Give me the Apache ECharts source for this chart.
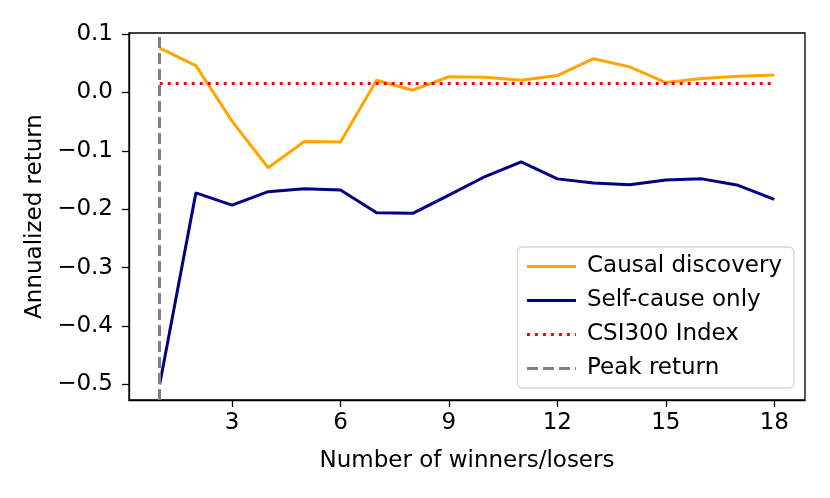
<!DOCTYPE html>
<html>
<head>
<meta charset="utf-8">
<script src="https://cdn.jsdelivr.net/npm/echarts@6/dist/echarts.min.js"></script>
<style>
  html, body { margin: 0; padding: 0; background: #fff; }
  #chart { width: 830px; height: 498px; }
</style>
</head>
<body>
<div id="chart"></div>
<script>
let myChart = echarts.init(document.getElementById('chart'))

// data
const winners = [1, 2, 3, 4, 5, 6, 7, 8, 9, 10, 11, 12, 13, 14, 15, 16, 17, 18]
const causal = [0.076, 0.046, -0.049, -0.129, -0.084, -0.085, 0.021, 0.004, 0.027, 0.026, 0.021, 0.029, 0.058, 0.044, 0.017, 0.024, 0.028, 0.030]
const selfCause = [-0.500, -0.172, -0.193, -0.170, -0.165, -0.167, -0.206, -0.207, -0.176, -0.144, -0.119, -0.148, -0.155, -0.158, -0.150, -0.148, -0.159, -0.183]
const csi300 = 0.0154
const xTicks = [3, 6, 9, 12, 15, 18]
const yTicks = [-0.5, -0.4, -0.3, -0.2, -0.1, 0.0, 0.1]

// peak of causal discovery
let peakIdx = causal.indexOf(Math.max(...causal))
let peakX = winners[peakIdx]

const font = 'DejaVu Sans'
const fs = 23
const lw = 3

let opt = {
  animation: false,
  backgroundColor: '#fff',
  textStyle: { fontFamily: font },
  grid: {
    left: 129, right: 25, top: 33, bottom: 98,
    show: true, borderColor: '#000', borderWidth: 1.3, backgroundColor: 'transparent'
  },
  legend: {
    orient: 'vertical',
    right: 36, top: 247,
    data: ['Causal discovery', 'Self-cause only', 'CSI300 Index', 'Peak return'],
    itemWidth: 49, itemHeight: 14, itemGap: 11,
    padding: [8, 12, 8, 8],
    backgroundColor: 'rgba(255,255,255,0.8)',
    borderColor: '#d6d6d6', borderWidth: 1.3, borderRadius: 5,
    itemStyle: { opacity: 0 },
    lineStyle: { width: lw },
    textStyle: { fontFamily: font, fontSize: fs, color: '#000', padding: [0, 0, 0, 6] }
  },
  xAxis: {
    type: 'value',
    min: 0.15, max: 18.85,
    name: 'Number of winners/losers',
    nameLocation: 'middle', nameGap: 50,
    nameTextStyle: { fontFamily: font, fontSize: fs, color: '#000' },
    axisLine: { show: true, onZero: false, lineStyle: { color: '#000', width: 1.3 } },
    axisTick: { show: true, customValues: xTicks, length: 7, lineStyle: { color: '#000', width: 1.3 } },
    axisLabel: { customValues: xTicks, margin: 12, fontFamily: font, fontSize: fs, color: '#000' },
    splitLine: { show: false }
  },
  yAxis: {
    type: 'value',
    min: -0.527, max: 0.102,
    name: 'Annualized return',
    nameLocation: 'middle', nameGap: 80, nameRotate: 90,
    nameTextStyle: { fontFamily: font, fontSize: fs, color: '#000' },
    axisLine: { show: true, lineStyle: { color: '#000', width: 1.3 } },
    axisTick: { show: true, customValues: yTicks, length: 7, lineStyle: { color: '#000', width: 1.3 } },
    axisLabel: {
      customValues: yTicks, margin: 16, fontFamily: font, fontSize: fs, color: '#000',
      formatter: v => v.toFixed(1).replace('-', '\u2212')
    },
    splitLine: { show: false }
  },
  series: [
    {
      name: 'Causal discovery', type: 'line', symbol: 'none',
      data: winners.map((x, i) => [x, causal[i]]),
      lineStyle: { color: '#FFA500', width: lw }, itemStyle: { color: '#FFA500' }
    },
    {
      name: 'Self-cause only', type: 'line', symbol: 'none',
      data: winners.map((x, i) => [x, selfCause[i]]),
      lineStyle: { color: '#000080', width: lw }, itemStyle: { color: '#000080' }
    },
    {
      name: 'CSI300 Index', type: 'line', symbol: 'none',
      data: winners.map(x => [x, csi300]),
      lineStyle: { color: '#FF0000', width: lw, type: [3, 5] }, itemStyle: { color: '#FF0000' }
    },
    {
      name: 'Peak return', type: 'line', symbol: 'none',
      data: [],
      lineStyle: { color: '#808080', width: lw, type: [11, 5] }, itemStyle: { color: '#808080' },
      markLine: {
        silent: true, symbol: 'none', label: { show: false },
        lineStyle: { color: '#808080', width: lw, type: [11, 5] },
        data: [{ xAxis: peakX }]
      }
    }
  ]
}

myChart.setOption(opt)
</script>
</body>
</html>
